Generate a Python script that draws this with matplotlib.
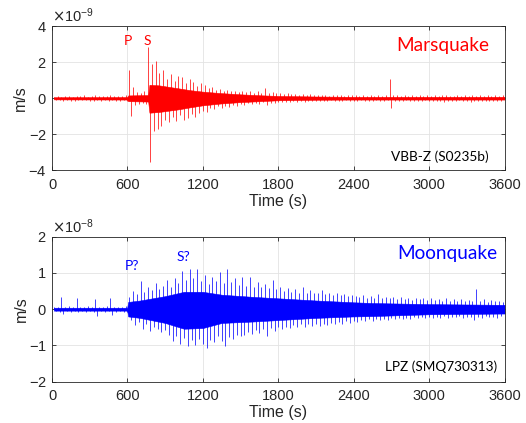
import numpy as np
import matplotlib.pyplot as plt

plt.rcParams['font.family'] = ['Liberation Sans', 'DejaVu Sans']
plt.rcParams['axes.unicode_minus'] = False

# sample times: upward peak at t_hi, downward peak 15 s later
t_hi = np.arange(15, 3600, 30)
t_lo = t_hi + 15

# Marsquake VBB-Z (S0235b), peaks in 1e-9 m/s
mars_hi = [0.10, 0.13, 0.09, 0.15, 0.12, 0.10, 0.14, 0.11, 0.16, 0.10,
           0.12, 0.17, 0.11, 0.14, 0.12, 0.18, 0.11, 0.15, 0.13, 0.16,
           1.60, 0.65, 0.35, 0.28, 0.40, 2.85, 1.90, 2.05, 1.40, 1.55,
           1.10, 1.35, 0.95, 1.25, 1.20, 0.85, 1.10, 0.92, 0.70, 0.83,
           0.75, 0.55, 0.62, 0.45, 0.50, 0.40, 0.47, 0.38, 0.42, 0.35,
           0.42, 0.35, 0.40, 0.32, 0.38, 0.30, 0.55, 0.30, 0.33, 0.28,
           0.28, 0.24, 0.27, 0.22, 0.25, 0.21, 0.24, 0.20, 0.23, 0.19,
           0.19, 0.16, 0.20, 0.15, 0.18, 0.16, 0.21, 0.15, 0.17, 0.16,
           0.18, 0.15, 0.17, 0.14, 0.19, 0.15, 0.16, 0.14, 0.17, 1.05,
           0.18, 0.16, 0.14, 0.17, 0.15, 0.18, 0.14, 0.16, 0.15, 0.17,
           0.15, 0.18, 0.14, 0.16, 0.19, 0.15, 0.14, 0.17, 0.15, 0.16,
           0.14, 0.17, 0.15, 0.20, 0.14, 0.16, 0.15, 0.18, 0.14, 0.16]
mars_lo = [-0.10, -0.12, -0.14, -0.11, -0.13, -0.15, -0.10, -0.12, -0.11, -0.14,
           -0.13, -0.11, -0.16, -0.12, -0.14, -0.12, -0.15, -0.13, -0.12, -0.15,
           -0.97, -0.35, -0.30, -0.25, -0.30, -3.56, -1.80, -1.70, -1.55, -1.20,
           -1.30, -1.05, -1.25, -0.95, -1.20, -1.10, -0.85, -1.05, -0.80, -0.70,
           -0.74, -0.55, -0.60, -0.45, -0.52, -0.40, -0.47, -0.36, -0.42, -0.33,
           -0.35, -0.28, -0.32, -0.25, -0.30, -0.22, -0.35, -0.24, -0.26, -0.21,
           -0.22, -0.18, -0.21, -0.17, -0.19, -0.16, -0.18, -0.15, -0.17, -0.14,
           -0.15, -0.13, -0.16, -0.12, -0.14, -0.13, -0.15, -0.12, -0.14, -0.13,
           -0.14, -0.12, -0.15, -0.13, -0.14, -0.12, -0.13, -0.15, -0.12, -0.56,
           -0.15, -0.13, -0.17, -0.12, -0.14, -0.16, -0.13, -0.15, -0.12, -0.14,
           -0.16, -0.13, -0.15, -0.18, -0.13, -0.14, -0.16, -0.12, -0.15, -0.13,
           -0.22, -0.14, -0.13, -0.15, -0.14, -0.17, -0.13, -0.15, -0.14, -0.16]

# dense core of the Mars trace (1e-9 m/s)
mars_core_t = [15, 598, 606, 765, 775, 850, 1000, 1100, 1200, 1340, 1500,
               1650, 1800, 2100, 2400, 3000, 3600]
mars_core_up = [0.06, 0.07, 0.16, 0.18, 0.75, 0.72, 0.56, 0.45, 0.37, 0.29,
                0.22, 0.17, 0.13, 0.10, 0.08, 0.08, 0.08]
mars_core_dn = [-0.06, -0.07, -0.16, -0.18, -0.80, -0.76, -0.62, -0.50, -0.39,
                -0.29, -0.21, -0.16, -0.11, -0.08, -0.07, -0.07, -0.07]

# Moonquake LPZ (SMQ730313), peaks in 1e-8 m/s
moon_hi = [0.07, 0.05, 0.34, 0.06, 0.08, 0.05, 0.30, 0.07, 0.06, 0.08,
           0.06, 0.29, 0.07, 0.05, 0.08, 0.30, 0.06, 0.07, 0.05, 0.08,
           0.35, 0.50, 0.42, 0.78, 0.48, 0.60, 0.52, 0.72, 0.55, 0.65,
           0.80, 0.62, 0.85, 0.72, 1.05, 0.80, 1.10, 0.85, 1.12, 0.78,
           0.95, 0.70, 0.90, 0.78, 1.02, 0.72, 1.10, 0.75, 0.85, 0.68,
           0.88, 0.65, 0.90, 0.62, 0.75, 0.60, 0.70, 0.58, 0.80, 0.55,
           0.62, 0.50, 0.58, 0.48, 0.55, 0.46, 0.60, 0.45, 0.52, 0.44,
           0.45, 0.52, 0.42, 0.46, 0.40, 0.44, 0.38, 0.42, 0.36, 0.38,
           0.37, 0.33, 0.40, 0.32, 0.36, 0.30, 0.43, 0.31, 0.34, 0.30,
           0.33, 0.28, 0.35, 0.27, 0.32, 0.26, 0.30, 0.27, 0.31, 0.25,
           0.30, 0.25, 0.28, 0.24, 0.30, 0.23, 0.27, 0.24, 0.28, 0.23,
           0.26, 0.22, 0.56, 0.23, 0.27, 0.21, 0.25, 0.22, 0.24, 0.21]
moon_lo = [-0.06, -0.08, -0.12, -0.05, -0.07, -0.06, -0.09, -0.05, -0.07, -0.06,
           -0.08, -0.18, -0.06, -0.07, -0.05, -0.15, -0.07, -0.06, -0.08, -0.07,
           -0.30, -0.45, -0.35, -0.55, -0.42, -0.60, -0.48, -0.55, -0.62, -0.58,
           -0.70, -0.88, -0.75, -0.95, -0.80, -1.03, -0.85, -1.00, -0.82, -0.95,
           -1.07, -0.85, -0.90, -0.75, -0.88, -1.03, -0.78, -0.82, -0.70, -0.75,
           -0.70, -0.62, -0.68, -0.58, -0.65, -0.55, -0.74, -0.52, -0.60, -0.50,
           -0.55, -0.48, -0.52, -0.45, -0.50, -0.42, -0.48, -0.40, -0.46, -0.42,
           -0.46, -0.40, -0.44, -0.38, -0.42, -0.36, -0.40, -0.34, -0.38, -0.33,
           -0.35, -0.30, -0.34, -0.28, -0.33, -0.27, -0.30, -0.26, -0.29, -0.25,
           -0.28, -0.24, -0.27, -0.23, -0.26, -0.22, -0.25, -0.21, -0.24, -0.22,
           -0.24, -0.21, -0.23, -0.20, -0.25, -0.21, -0.22, -0.20, -0.23, -0.21,
           -0.22, -0.30, -0.21, -0.23, -0.20, -0.22, -0.21, -0.23, -0.20, -0.22]

# dense core of the Moon trace (1e-8 m/s)
moon_core_t = [15, 598, 606, 700, 900, 1050, 1200, 1350, 1600, 1800, 2100,
               2400, 2550, 3000, 3600]
moon_core_up = [0.04, 0.04, 0.20, 0.24, 0.36, 0.48, 0.48, 0.40, 0.34, 0.30,
                0.24, 0.19, 0.17, 0.14, 0.12]
moon_core_dn = [-0.04, -0.04, -0.20, -0.24, -0.38, -0.54, -0.52, -0.38, -0.34,
                -0.30, -0.24, -0.20, -0.19, -0.14, -0.12]

xticks = [0, 600, 1200, 1800, 2400, 3000, 3600]

dark = '#262626'
note_font = ['Lato', 'DejaVu Sans']


def trace(ax, hi, lo, core_t, core_up, core_dn, scale, color):
    ax.fill_between(core_t, np.array(core_dn) * scale, np.array(core_up) * scale,
                    color=color, linewidth=0.4)
    ax.vlines(t_hi, 0, np.array(hi) * scale, color=color, linewidth=0.65, alpha=0.8)
    ax.vlines(t_lo, np.array(lo) * scale, 0, color=color, linewidth=0.65, alpha=0.8)


def style(ax, lim, step):
    ax.set_xlim(0, 3600)
    ax.set_xticks(xticks)
    ax.set_ylim(-lim, lim)
    ax.set_yticks(np.arange(-lim, lim + step / 2, step))
    ax.ticklabel_format(axis='y', style='sci', scilimits=(0, 0), useMathText=True)
    ax.grid(True, color='#e3e3e3', linewidth=0.6)
    ax.set_axisbelow(True)
    ax.tick_params(direction='in', length=3, width=0.6, colors=dark,
                   labelsize=10.5, top=True, right=True)
    ax.tick_params(axis='x', pad=5.5)
    ax.tick_params(axis='y', pad=4)
    for s in ax.spines.values():
        s.set_color(dark)
        s.set_linewidth(0.6)
    ax.yaxis.get_offset_text().set_fontsize(10.5)
    ax.yaxis.get_offset_text().set_color(dark)
    ax.set_xlabel('Time (s)', fontsize=11.5, color=dark, labelpad=1.5)
    ax.set_ylabel('m/s', fontsize=11.5, color=dark, labelpad=0)


fig = plt.figure(figsize=(5.26, 4.23), dpi=100)
ax1 = fig.add_axes([0.0989, 0.5974, 0.8603, 0.3404])
ax2 = fig.add_axes([0.0989, 0.0979, 0.8603, 0.3423])

trace(ax1, mars_hi, mars_lo, mars_core_t, mars_core_up, mars_core_dn, 1e-9, '#ff0000')
style(ax1, 4e-9, 2e-9)
ax1.text(0.966, 0.83, 'Marsquake', transform=ax1.transAxes, ha='right',
         va='baseline', color='#ff0000', fontsize=13.7, family=note_font)
ax1.text(0.964, 0.067, 'VBB-Z (S0235b)', transform=ax1.transAxes, ha='right',
         va='baseline', color='black', fontsize=9.8, family=note_font)
ax1.text(607, 2.96e-9, 'P', ha='center', va='baseline', color='#ff0000',
         fontsize=10, family=note_font)
ax1.text(760, 2.96e-9, 'S', ha='center', va='baseline', color='#ff0000',
         fontsize=10, family=note_font)

trace(ax2, moon_hi, moon_lo, moon_core_t, moon_core_up, moon_core_dn, 1e-8, '#0000ff')
style(ax2, 2e-8, 1e-8)
ax2.text(0.984, 0.849, 'Moonquake', transform=ax2.transAxes, ha='right',
         va='baseline', color='#0000ff', fontsize=13.7, family=note_font)
ax2.text(0.983, 0.071, 'LPZ (SMQ730313)', transform=ax2.transAxes, ha='right',
         va='baseline', color='black', fontsize=9.8, family=note_font)
ax2.text(638, 1.09e-8, 'P?', ha='center', va='baseline', color='#0000ff',
         fontsize=10, family=note_font)
ax2.text(1045, 1.32e-8, 'S?', ha='center', va='baseline', color='#0000ff',
         fontsize=10, family=note_font)

fig.savefig('out.png', dpi=100)
